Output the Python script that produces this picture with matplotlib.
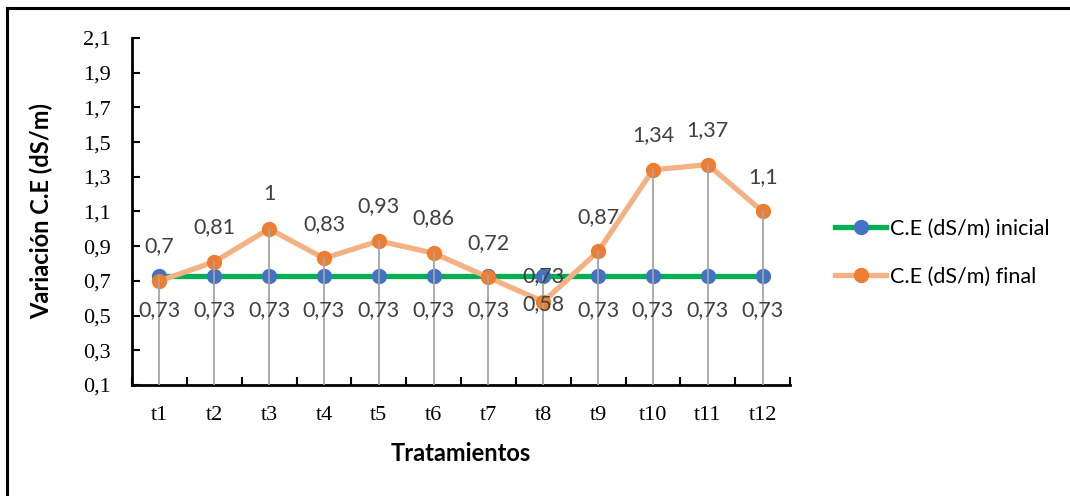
import matplotlib.pyplot as plt
from matplotlib.lines import Line2D

# C.E values per treatment
tratamientos = ['t1', 't2', 't3', 't4', 't5', 't6', 't7', 't8', 't9', 't10', 't11', 't12']
ce_inicial = [0.73, 0.73, 0.73, 0.73, 0.73, 0.73, 0.73, 0.73, 0.73, 0.73, 0.73, 0.73]
ce_final = [0.7, 0.81, 1.0, 0.83, 0.93, 0.86, 0.72, 0.58, 0.87, 1.34, 1.37, 1.1]
y_ticks = [0.1, 0.3, 0.5, 0.7, 0.9, 1.1, 1.3, 1.5, 1.7, 1.9, 2.1]

serif = 'Liberation Serif'
sans = 'Lato'
gray_txt = '#404040'

def fmt(v):
    return ('%g' % v).replace('.', ',')

fig = plt.figure(figsize=(10.7, 4.96), dpi=100)
ax = fig.add_axes([0.1234, 0.2238, 0.615, 0.6996])

x = list(range(len(tratamientos)))

ax.plot(x, ce_inicial, color='#00B050', lw=3.8, marker='o', ms=10,
        mfc='#4472C4', mec='#4472C4', zorder=3, label='C.E (dS/m) inicial')
ax.plot(x, ce_final, color='#F4B183', lw=3.8, marker='o', ms=10,
        mfc='#ED7D31', mec='#ED7D31', zorder=4, label='C.E (dS/m) final')

# drop lines from the highest point down to the axis
for i in x:
    top = max(ce_inicial[i], ce_final[i])
    ax.plot([i, i], [0.1, top], color='#A5A5A5', lw=1.3, zorder=5)

# data labels
for i in x:
    if tratamientos[i] == 't8':
        off_ini, off_fin = 0, -2
    else:
        off_ini, off_fin = -25, 25
    ax.annotate(fmt(ce_inicial[i]), (i, ce_inicial[i]), xytext=(0, off_ini),
                textcoords='offset points', ha='center', va='center',
                fontsize=15.5, color=gray_txt, family=sans, zorder=6)
    ax.annotate(fmt(ce_final[i]), (i, ce_final[i]), xytext=(0, off_fin),
                textcoords='offset points', ha='center', va='center',
                fontsize=15.5, color=gray_txt, family=sans, zorder=6)

ax.set_xlim(-0.5, len(tratamientos) - 0.5)
ax.set_ylim(0.1, 2.1)
ax.set_yticks(y_ticks)
ax.set_yticklabels([fmt(v) for v in y_ticks], family=serif, fontsize=16)
ax.set_xticks(x)
ax.set_xticklabels(tratamientos, family=serif, fontsize=16)
ax.set_xticks([i - 0.5 for i in range(len(tratamientos) + 1)], minor=True)
ax.tick_params(axis='x', which='major', length=0, pad=15)
ax.tick_params(axis='x', which='minor', direction='in', length=6, width=1.5)
ax.tick_params(axis='y', direction='in', length=6, width=1.5, pad=15)

for s in ['top', 'right']:
    ax.spines[s].set_visible(False)
for s in ['left', 'bottom']:
    ax.spines[s].set_linewidth(2)

ax.set_xlabel('Tratamientos', family=sans, fontweight='bold', fontsize=17)
ax.set_ylabel('Variación C.E (dS/m)', family=sans, fontweight='bold', fontsize=17)
ax.xaxis.set_label_coords(0.5, -0.165)
ax.yaxis.set_label_coords(-0.12, 0.5)

ax.legend(loc='center left', bbox_to_anchor=(0.762, 0.49), bbox_transform=fig.transFigure,
          frameon=False, handlelength=2.4, handletextpad=0.15, labelspacing=1.3,
          prop={'family': sans, 'size': 15.5})

# outer frame lines
fig.add_artist(Line2D([7 / 1070, 1], [1 - 8 / 496, 1 - 8 / 496], color='black', lw=2.2))
fig.add_artist(Line2D([7 / 1070, 7 / 1070], [0, 1 - 8 / 496], color='black', lw=2.2))

fig.savefig('out.png', dpi=100)
